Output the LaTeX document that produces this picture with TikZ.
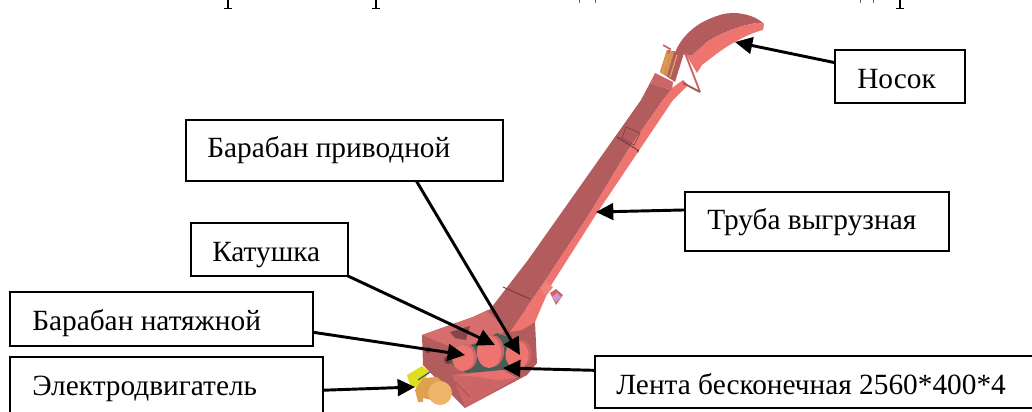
\documentclass[tikz,border=0pt]{standalone}
\usepackage{fontspec}
\setmainfont{Liberation Serif}
\usetikzlibrary{arrows.meta}
\definecolor{dk}{HTML}{B35C5E}
\definecolor{lt}{HTML}{EE7470}
\definecolor{md}{HTML}{CC6666}
\definecolor{top}{HTML}{D66E6E}
\definecolor{belt}{HTML}{4A5E58}
\definecolor{yel}{HTML}{DDDD22}
\definecolor{org}{HTML}{DFA050}
\definecolor{orl}{HTML}{EDB46A}
\tikzset{
 lab/.style={draw=black,line width=1.5pt,fill=white,inner sep=0pt,outer sep=0pt},
 labtext/.style={anchor=base west,inner sep=0pt,font=\fontsize{22}{24}\selectfont},
 arr/.style={line width=2.2pt,-{Triangle[length=13pt,width=12.5pt]}}
}
\begin{document}
\begin{tikzpicture}[x=0.75pt,y=-0.75pt]
\useasboundingbox (0,0) rectangle (1032,411);
\clip (0,0) rectangle (1032,411);
% cut-off heading strokes
\foreach \xx in {228,376,900}{\fill (\xx-1.2,0) rectangle (\xx+1.2,8); \fill (\xx-4,8) rectangle (\xx+4,9.2);}
\foreach \xx in {579,595,860,873}{\fill[black!60] (\xx,0) rectangle (\xx+1,3);}
% hopper body
\fill[dk,line join=round] (422,335) -- (473,317) -- (488,310) -- (520,300) -- (535,322) -- (537,363) -- (527,375) -- (465,408) -- (452,395) -- (423,365) -- cycle;
\fill[top] (422,335) -- (473,317) -- (488,310) -- (505,330) -- (500,336) -- (478,345) -- (453,348) -- cycle;
\fill[dk!75!black] (450,332) -- (470,326) -- (466,340) -- (455,338) -- cycle;
\fill[dk!65!black] (428,350) circle (3);
\fill[dk!65!black] (448,360) circle (4);
\fill[md] (452,375) -- (503,372) -- (517,378) -- (470,405) -- (465,407) -- cycle;
\draw[dk!80!black,line width=.5pt] (455,382) -- (470,397);
% chute dark face
\fill[dk] (488,312) -- (528,260) -- (641,100) -- (650,83) -- (672,90) -- (663,100) -- (628,150) -- (590,213) -- (541,287) -- (510,332) -- cycle;
% chute light face
\fill[lt] (510,332) -- (541,287) -- (590,213) -- (628,150) -- (663,100) -- (672,88) -- (683,80) -- (688,85) -- (673,100) -- (638,152) -- (597,213) -- (550,287) -- (535,322) -- (522,330) -- cycle;
\draw[dk!65!black,line width=.7pt] (503,287) -- (530,299);
\draw[dk!65!black,line width=.8pt] (617,137) -- (636,149);
\draw[dk!70!black,line width=.5pt] (626,127) -- (640,133) -- (634,145) -- (622,138) -- cycle;
\fill[dk!60!black] (636,149) -- (639,150) -- (638,153) -- cycle;
% flange and purple square
\fill[lt!90!white] (540,288) -- (546,282) -- (553,287) -- (546,296) -- cycle;
\fill[md] (550,293) -- (556,289) -- (563,295) -- (556,305) -- cycle;
\fill[violet!40!white] (552,297) -- (557,293) -- (561,297) -- (556,302) -- cycle;
% nose
\fill[dk] (675,53) .. controls (680,38) and (695,25) .. (707,20) .. controls (718,15) and (725,13) .. (733,13) .. controls (745,13) and (757,17) .. (764,24) -- (758,23) .. controls (745,24) and (720,33) .. (707,42) -- (692,56) -- cycle;
\fill[lt] (687,55) -- (692,55) -- (707,42) .. controls (720,33) and (745,24) .. (758,23) -- (764,24) -- (763,30) .. controls (755,32) and (745,36) .. (735,42) .. controls (725,47) and (715,55) .. (702,65) -- cycle;
% bracket
\fill[dk] (660,72) -- (667,50) -- (684,53) -- (675,82) -- cycle;
\fill[org!80!dk] (660,72) -- (667,50) -- (674,52) -- (667,76) -- cycle;
\draw[org,line width=1pt] (668,54) -- (662,74) (677,55) -- (670,77);
\draw[md,line width=1.3pt] (663,45) -- (670,49) -- (668,54);
\fill[md] (655,73) -- (673,82) -- (672,90) -- (650,83) -- cycle;
\fill[lt] (685,53) -- (702,65) -- (697,73) -- cycle;
\draw[md,line width=1.4pt] (685,53) -- (700,92);
\draw[dk!90!black,line width=1.4pt] (683,83) -- (700,92);
% belt
\fill[belt] (453,350) -- (477,343) -- (497,333) -- (515,340) -- (527,367) -- (503,370) -- (467,373) -- (450,363) -- cycle;
\fill[lt!80!md] (453,375) -- (503,370) -- (517,378) -- (497,380) -- (480,377) -- cycle;
% drums
\foreach \cx/\cy/\ra/\rb in {463/358/11/13,489/352/12/16,517/355/11.5/14}{
 \fill[md] (\cx+3,\cy-1) ellipse ({\ra} and {\rb});
 \fill[lt] (\cx,\cy) ellipse ({\ra} and {\rb});
}
% motor
\fill[yel] (407,375) -- (422,366) -- (430,372) -- (417,388) -- (410,385) -- cycle;
\draw[belt,line width=1pt] (418,380) -- (430,372);
\fill[org] (415,390) -- (423,378) -- (437,377) -- (445,384) -- (440,402) -- (423,398) -- (423,402) -- (418,402) -- cycle;
\fill[orl] (440,393) circle (12);
% label boxes
\node[lab,minimum width=130pt*.75,minimum height=53pt*.75] (nosok) at (900,76.5) {};
\node[lab,minimum width=264pt*.75,minimum height=59pt*.75] (truba) at (817,221.5) {};
\node[lab,minimum width=317pt*.75,minimum height=61pt*.75] (privod) at (344.5,150.5) {};
\node[lab,minimum width=157pt*.75,minimum height=53pt*.75] (katush) at (269.5,249.5) {};
\node[lab,minimum width=303pt*.75,minimum height=54pt*.75] (natyazh) at (161.5,319) {};
\node[lab,minimum width=313pt*.75,minimum height=61pt*.75] (motor) at (166.5,387.5) {};
\node[lab,minimum width=445pt*.75,minimum height=52pt*.75] (lenta) at (817.5,382) {};
% label texts
\node[labtext] (tnosok) at (857,88) {Носок};
\node[labtext] (ttruba) at (707,229) {Труба выгрузная};
\node[labtext] (tprivod) at (207,157) {Барабан приводной};
\node[labtext] (tkatush) at (212,261) {Катушка};
\node[labtext] (tnatyazh) at (32,330) {Барабан натяжной};
\node[labtext] (tmotor) at (32,395) {Электродвигатель};
\node[labtext] (tlenta) at (616,394) {Лента бесконечная 2560*400*4};
% targets
\coordinate (pnose) at (735,42);
\coordinate (ppipe) at (596,212);
\coordinate (pdrive) at (520,355);
\coordinate (pspool) at (495,345);
\coordinate (ptension) at (465,355);
\coordinate (pmotor) at (415,387);
\coordinate (pbelt) at (503,368);
% arrows
\draw[arr] (nosok.168.3) -- (pnose);
\draw[arr] (truba.175) -- (ppipe);
\draw[arr] (privod.-23.4) -- (pdrive);
\draw[arr] (katush.south east) -- (pspool);
\draw[arr] (natyazh.-5.3) -- (ptension);
\draw[arr] (motor.-1.6) -- (pmotor);
\draw[arr] (lenta.177.4) -- (pbelt);
\end{tikzpicture}
\end{document}
